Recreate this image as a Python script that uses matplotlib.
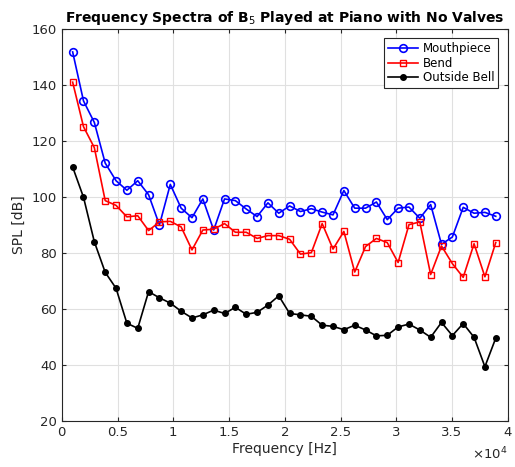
import numpy as np
import matplotlib
matplotlib.use("Agg")
import matplotlib.pyplot as plt
from matplotlib.ticker import FuncFormatter

# Harmonic number and fundamental of the played note
harmonic = np.arange(1, 41)
f0 = 973.0
freq = harmonic * f0

mouthpiece = [151.8, 134.3, 126.6, 112.1, 105.8, 102.4, 105.8, 100.8, 90.0, 104.5,
              96.0, 92.6, 99.3, 88.2, 99.3, 98.7, 95.7, 93.0, 97.9, 94.2,
              96.8, 94.8, 95.8, 94.6, 93.6, 102.3, 96.0, 96.0, 98.2, 91.9,
              96.0, 96.4, 92.4, 97.3, 83.1, 85.7, 96.3, 94.2, 94.5, 93.1]
bend = [141.0, 125.1, 117.6, 98.7, 97.0, 92.9, 93.3, 88.0, 91.1, 91.3,
        89.3, 81.1, 88.2, 88.5, 90.5, 87.4, 87.4, 85.2, 86.2, 86.2,
        84.9, 79.6, 80.1, 90.5, 81.4, 87.7, 73.2, 82.3, 85.2, 83.7,
        76.6, 90.1, 91.1, 72.3, 82.5, 76.2, 71.3, 83.3, 71.5, 83.7]
outside_bell = [110.7, 99.9, 84.0, 73.1, 67.4, 54.9, 53.1, 66.2, 64.0, 62.1,
                59.2, 56.8, 57.9, 59.6, 58.4, 60.6, 58.1, 58.8, 61.4, 64.7,
                58.4, 57.9, 57.4, 54.2, 53.8, 52.6, 54.2, 52.5, 50.4, 50.6,
                53.6, 54.6, 52.5, 49.9, 55.2, 50.5, 54.8, 49.9, 39.4, 49.6]

plt.rcParams['font.family'] = 'DejaVu Sans'
fig = plt.figure(figsize=(5.15, 4.67), dpi=100)
ax = fig.add_axes([0.120, 0.0985, 0.866, 0.8395])

ax.plot(freq, mouthpiece, '-o', color='#0000ff', lw=1.2, ms=5.5,
        mfc='none', mew=1.2, label='Mouthpiece')
ax.plot(freq, bend, '-s', color='#ff0000', lw=1.2, ms=4.2,
        mfc='none', mew=1.0, label='Bend')
ax.plot(freq, outside_bell, '-o', color='black', lw=1.2, ms=4,
        label='Outside Bell')

ax.set_xlim(0, 40000)
ax.set_ylim(20, 160)
ax.set_xticks(np.arange(0, 40001, 5000))
ax.set_yticks(np.arange(20, 161, 20))
# x ticks in units of 1e4, exponent shown separately
ax.xaxis.set_major_formatter(FuncFormatter(lambda v, p: '%g' % (v / 1e4)))
ax.text(1.0, -0.062, r'$\times10^4$', transform=ax.transAxes, ha='right',
        va='top', fontsize=9.5, color='#262626')

ax.grid(True, color='#e0e0e0', lw=0.8)
ax.set_axisbelow(True)
ax.tick_params(direction='in', length=3, labelsize=9.5, colors='#262626',
               top=True, right=True)
for s in ax.spines.values():
    s.set_color('#262626')
    s.set_linewidth(0.8)

ax.set_xlabel('Frequency [Hz]', fontsize=10, color='#262626', labelpad=2)
ax.set_ylabel('SPL [dB]', fontsize=10, color='#262626', labelpad=4)
ax.set_title('Frequency Spectra of B$_5$ Played at Piano with No Valves',
             fontsize=10, fontweight='bold', pad=5)

leg = ax.legend(loc='upper right', fontsize=8.5, fancybox=False, framealpha=1,
                edgecolor='#262626', handlelength=2.6, borderpad=0.3,
                labelspacing=0.15, handletextpad=0.4, borderaxespad=0.8)
leg.get_frame().set_linewidth(0.8)

fig.savefig('out.png', dpi=100)
